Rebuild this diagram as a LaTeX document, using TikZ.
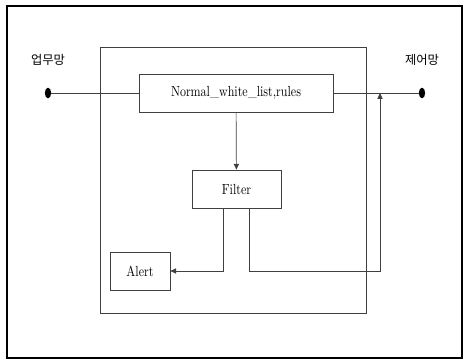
\documentclass[tikz,border=0pt]{standalone}
\usepackage{fontspec}
\setmainfont{lmroman10-regular.otf}[FakeStretch=0.82]
\newfontfamily\krfont{Noto Sans CJK KR}
\usetikzlibrary{positioning,arrows.meta,shapes.geometric}
\tikzset{
    plain-box/.style = {draw=black!75, fill=white, line width=0.6pt, rectangle, minimum height=1.14cm, inner sep=2pt, font=\fontsize{12.5}{14}\selectfont},
    net-dot/.style = {ellipse, fill=black, inner sep=0pt, minimum width=0.19cm, minimum height=0.32cm},
    net-label/.style = {font=\krfont\fontsize{10.5}{12}\selectfont},
    flow/.style = {draw=black!75, line width=0.6pt},
    flow-arrow/.style = {flow, -{Triangle[length=5pt,width=4.5pt]}},
}

\begin{document}
\begin{tikzpicture}[x=0.03cm, y=-0.03cm]
\useasboundingbox (0,0) rectangle (465,363);
\draw[line width=1.6pt] (7,6) rectangle (462,358);
\draw[black!75, line width=0.6pt] (100,47) rectangle (366,313);

\node[plain-box, minimum width=5.82cm] (rules) at (236,93) {Normal\_white\_list,rules};
\node[plain-box, minimum width=2.67cm] (filter) at (236.5,189) {Filter};
\node[plain-box, minimum width=1.8cm] (alert) at (140,271) {Alert};

\node[net-dot] (in) at (48,93) {};
\node[net-dot] (out) at (422,93) {};
\node[net-label] (in-label) at (48,60) {업무망};
\node[net-label] (out-label) at (422,60) {제어망};
\coordinate (join) at (380,93);

\draw[flow] (in) -- (rules);
\draw[flow] (rules) -- (out);
\draw[flow-arrow] (rules) -- (filter);
\draw[flow-arrow] ([xshift=-0.4cm]filter.south) |- (alert);
\draw[flow-arrow] ([xshift=0.4cm]filter.south) |- (join |- alert) -- (join);
\end{tikzpicture}
\end{document}
